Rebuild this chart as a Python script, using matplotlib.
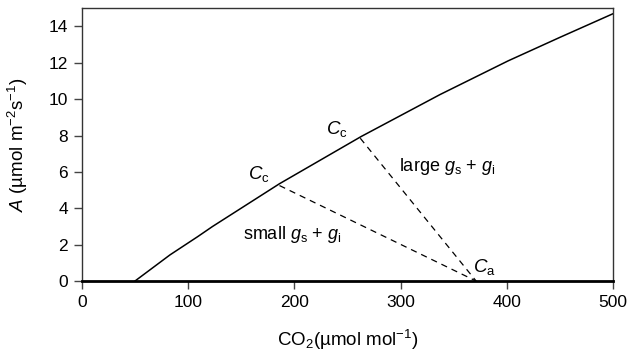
import numpy as np
import matplotlib.pyplot as plt

plt.rcParams["font.family"] = ["Liberation Sans", "DejaVu Sans"]
plt.rcParams["mathtext.fontset"] = "custom"
plt.rcParams["mathtext.rm"] = "Liberation Sans"
plt.rcParams["mathtext.it"] = "Liberation Sans:italic"

# response curve
co2 = [50, 83, 109, 123, 186, 263, 337, 401, 450, 500]
assim = [0.0, 1.44, 2.44, 3.0, 5.35, 7.95, 10.25, 12.1, 13.4, 14.7]

# chloroplast / ambient points joined by the conductance lines
cc_small = (186, 5.25)
cc_large = (262, 7.85)
ca = (371, 0.0)

fig = plt.figure(figsize=(6.29, 3.54), dpi=100)
ax = fig.add_axes([0.130, 0.206, 0.845, 0.771])

ax.plot(co2, assim, color="black", lw=1.1)
for p in (cc_small, cc_large):
    ax.plot([p[0], ca[0]], [p[1], ca[1]], color="black", lw=0.9,
            linestyle=(0, (5, 4)))

ax.text(156, 5.6, r"$C_{\mathrm{c}}$", fontsize=13.5)
ax.text(230, 8.08, r"$C_{\mathrm{c}}$", fontsize=13.5)
ax.text(368, 0.5, r"$C_{\mathrm{a}}$", fontsize=13.5)
ax.text(152, 2.55, r"small $g_{\mathrm{s}}$ + $g_{\mathrm{i}}$", fontsize=13,
        va="center")
ax.text(298, 6.3, r"large $g_{\mathrm{s}}$ + $g_{\mathrm{i}}$", fontsize=13,
        va="center")

ax.set_xlim(0, 500)
ax.set_ylim(0, 15)
ax.set_xticks(np.arange(0, 501, 100))
ax.set_yticks(np.arange(0, 15, 2))
ax.tick_params(direction="out", length=6, width=1.0, labelsize=12.5,
               color="#444444", pad=4)
for s in ax.spines.values():
    s.set_linewidth(1.0)
    s.set_color("#333333")
ax.spines["bottom"].set_linewidth(2.0)
ax.spines["bottom"].set_color("black")

ax.set_xlabel("CO$_2$(µmol mol$^{-1}$)", fontsize=13.5, va="center")
ax.set_ylabel("$A$ (µmol m$^{-2}$s$^{-1}$)", fontsize=13.5, va="center")
ax.xaxis.set_label_coords(0.5, -0.216)
ax.yaxis.set_label_coords(-0.12, 0.5)

fig.savefig("out.png", dpi=100)
